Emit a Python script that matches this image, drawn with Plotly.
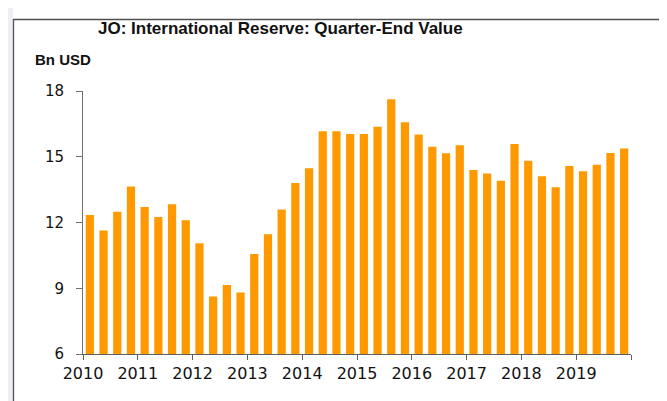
import plotly.graph_objects as go

# Quarter-end reserve values, Bn USD, 2010Q1 .. 2019Q4
quarters = [f"{y}Q{q}" for y in range(2010, 2020) for q in range(1, 5)]
reserves = [
    12.34, 11.63, 12.49, 13.64, 12.71, 12.25, 12.83, 12.10,
    11.05, 8.62, 9.15, 8.81, 10.56, 11.46, 12.59, 13.80,
    14.47, 16.16, 16.16, 16.04, 16.04, 16.37, 17.62, 16.57,
    16.02, 15.46, 15.16, 15.52, 14.40, 14.24, 13.91, 15.58,
    14.82, 14.11, 13.61, 14.58, 14.34, 14.64, 15.17, 15.38,
]
year_ticks = list(range(2010, 2021))
year_labels = [str(y) for y in range(2010, 2020)] + [""]
y_ticks = [6, 9, 12, 15, 18]

# Place each quarter in the middle of its slot on a continuous year axis
x_pos = [int(q[:4]) + (int(q[-1]) - 0.5) / 4 for q in quarters]

# The page body adds an 8px margin, so work in page pixels minus 8
OFF = 8
W, H = 667 - OFF, 401 - OFF
L, T = 83 - OFF, 91 - OFF
R = W - (631 - OFF)
B = H - (354 - OFF)
pw, ph = W - L - R, H - T - B


def px(x):
    # page pixel -> paper coordinate
    return (x - OFF - L) / pw


def py(y):
    return (H - B - (y - OFF)) / ph


FONT = "Liberation Sans, Arial, sans-serif"
TICK_FONT = "DejaVu Sans, Verdana, sans-serif"

fig = go.Figure()
fig.add_trace(
    go.Bar(
        x=x_pos,
        y=reserves,
        marker={"color": "#ff9900", "line": {"width": 0}},
        hovertext=quarters,
        showlegend=False,
    )
)

shapes = [
    # lavender strip on the left side of the page
    {
        "type": "rect", "xref": "paper", "yref": "paper",
        "x0": px(0), "x1": px(13), "y0": py(H + 20), "y1": py(-5),
        "fillcolor": "#eeeef7", "line": {"width": 0}, "layer": "below",
    },
    # chart frame
    {
        "type": "rect", "xref": "paper", "yref": "paper",
        "x0": px(13.5), "x1": px(662), "y0": py(H + 30), "y1": py(19.5),
        "fillcolor": "white", "line": {"color": "#505050", "width": 1.3},
        "layer": "below",
    },
]

fig.add_annotation(
    xref="paper", yref="paper", x=px(280), y=py(28),
    text="<b>JO: International Reserve: Quarter-End Value</b>",
    showarrow=False, xanchor="center", yanchor="middle",
    font={"family": FONT, "size": 17, "color": "#111111"},
)
fig.add_annotation(
    xref="paper", yref="paper", x=px(33), y=py(59),
    text="<b>Bn USD</b>",
    showarrow=False, xanchor="left", yanchor="middle",
    font={"family": FONT, "size": 15, "color": "#111111"},
)

fig.update_xaxes(
    range=[2010, 2020],
    tickmode="array",
    tickvals=year_ticks,
    ticktext=year_labels,
    ticks="outside",
    ticklen=5,
    tickcolor="#606060",
    showline=True,
    linecolor="#606060",
    linewidth=1.3,
    showgrid=False,
    zeroline=False,
    tickfont={"family": TICK_FONT, "size": 16, "color": "#111111"},
)
fig.update_yaxes(
    range=[6, 18],
    tickmode="array",
    tickvals=y_ticks,
    ticks="outside",
    ticklen=6,
    tickcolor="#707070",
    ticklabelstandoff=9,
    showline=True,
    linecolor="#707070",
    linewidth=1,
    showgrid=False,
    zeroline=False,
    tickfont={"family": TICK_FONT, "size": 15, "color": "#111111"},
)

fig.update_layout(
    width=W,
    height=H,
    margin={"l": L, "r": R, "t": T, "b": B, "pad": 0},
    bargap=0.4,
    paper_bgcolor="white",
    plot_bgcolor="rgba(0,0,0,0)",
    shapes=shapes,
)

fig.write_html("out.html")
